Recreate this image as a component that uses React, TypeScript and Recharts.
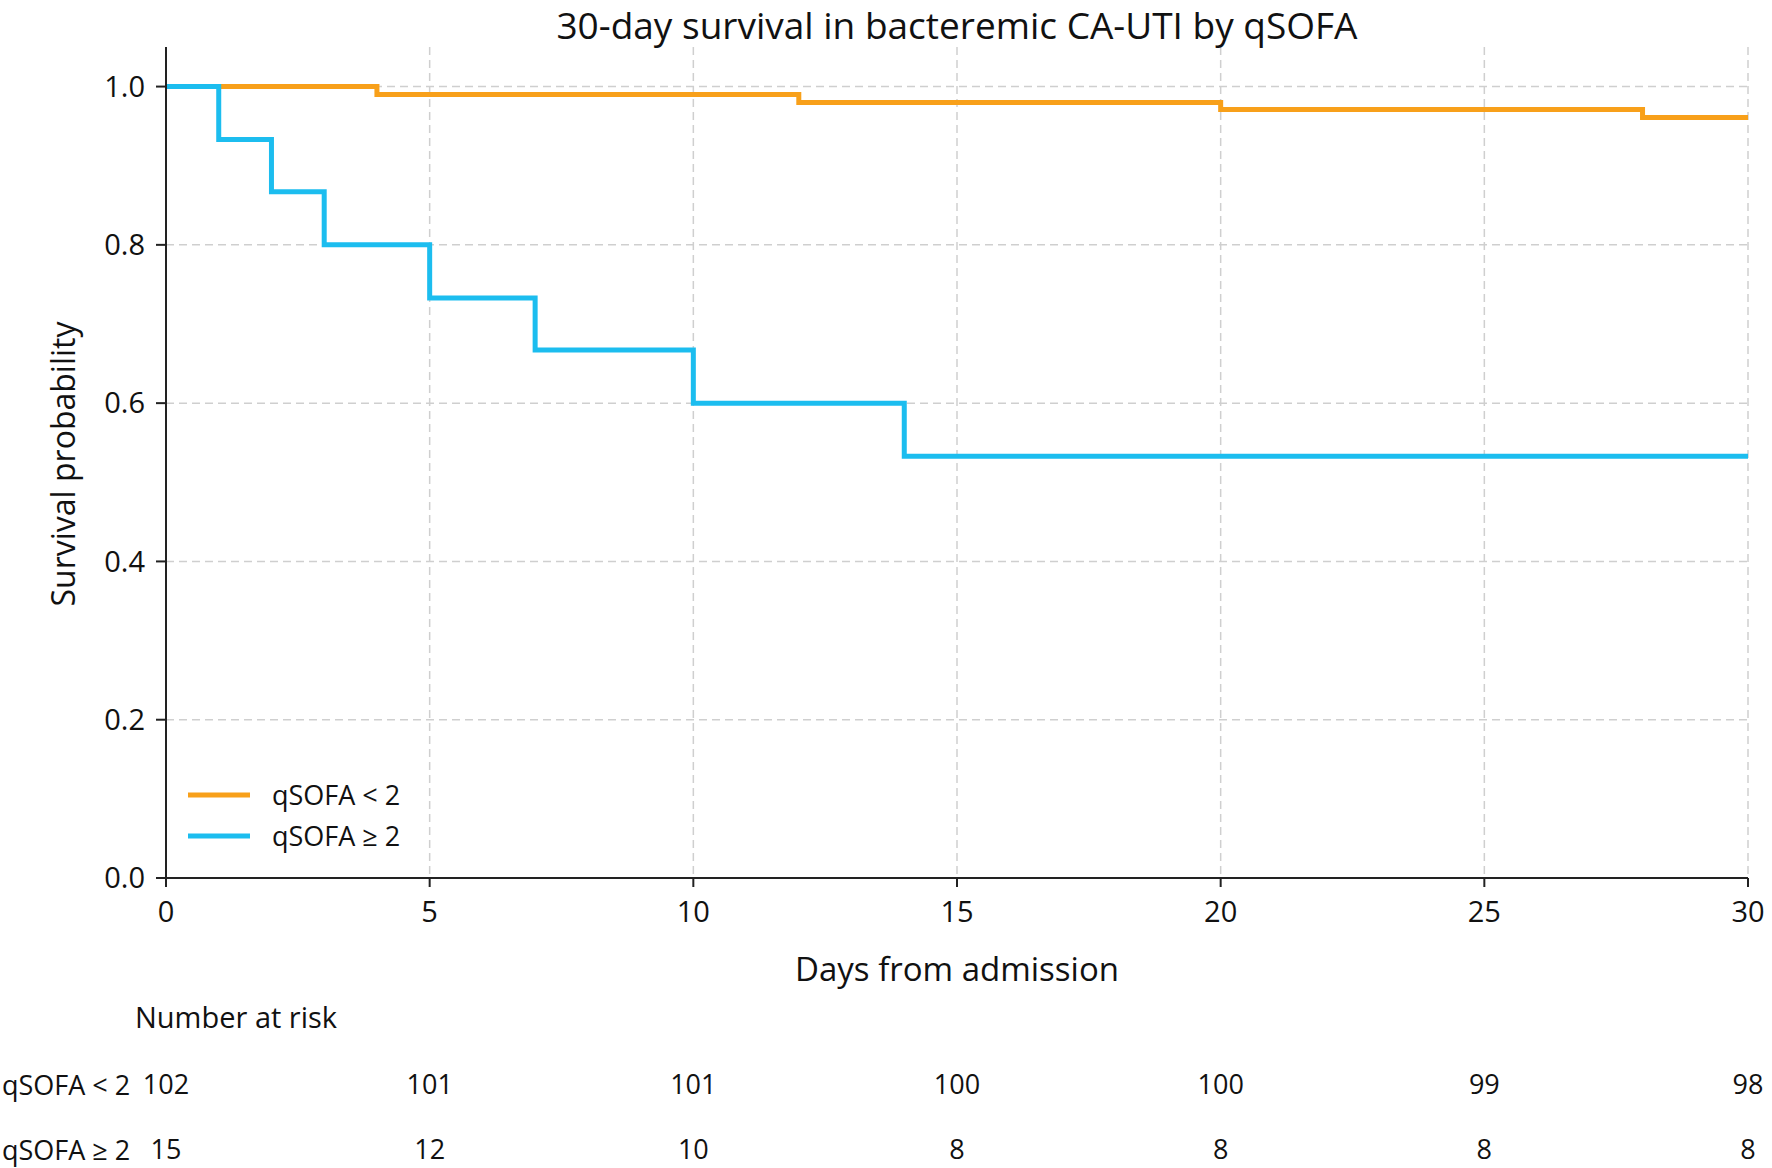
import React from 'react';
import { LineChart, Line, XAxis, YAxis, CartesianGrid, Legend } from 'recharts';

const COLORS = {
  low: '#F8A01A',
  high: '#1CBDEF',
  grid: '#CFCFCF',
  axis: '#222222',
  text: '#111111',
};

const FONT = '"Open Sans", "DejaVu Sans", sans-serif';

// Kaplan-Meier steps
const lowDays = [0, 4, 12, 20, 28, 30];
const lowSurv = [1.0, 0.99, 0.98, 0.971, 0.961, 0.961];
const highDays = [0, 1, 2, 3, 5, 7, 10, 14, 30];
const highSurv = [1.0, 0.933, 0.867, 0.8, 0.733, 0.667, 0.6, 0.533, 0.533];

const xTicks = [0, 5, 10, 15, 20, 25, 30];
const yTicks = [0, 0.2, 0.4, 0.6, 0.8, 1.0];

const groupLabels = ['qSOFA < 2', 'qSOFA ≥ 2'];
const atRiskLow = [102, 101, 101, 100, 100, 99, 98];
const atRiskHigh = [15, 12, 10, 8, 8, 8, 8];

const lowData = lowDays.map((t, i) => ({ t, s: lowSurv[i] }));
const highData = highDays.map((t, i) => ({ t, s: highSurv[i] }));

function AtRiskTick(props: any) {
  const { x, y, payload } = props;
  const i = xTicks.indexOf(payload.value);
  const common = { x, textAnchor: 'middle' as const, fill: COLORS.text, fontFamily: FONT };
  return (
    <g>
      <text {...common} fontSize={29} y={y + 35}>{payload.value}</text>
      <text {...common} fontSize={27} y={y + 207}>{atRiskLow[i]}</text>
      <text {...common} fontSize={27} y={y + 272}>{atRiskHigh[i]}</text>
    </g>
  );
}

function LegendBox() {
  const rows = [
    { label: groupLabels[0], color: COLORS.low },
    { label: groupLabels[1], color: COLORS.high },
  ];
  return (
    <div style={{ fontFamily: FONT, fontSize: 27, color: COLORS.text }}>
      {rows.map((r) => (
        <div key={r.label} style={{ display: 'flex', alignItems: 'center', height: 41 }}>
          <svg width={62} height={10} style={{ marginRight: 22 }}>
            <line x1={0} x2={62} y1={5} y2={5} stroke={r.color} strokeWidth={5} />
          </svg>
          <span>{r.label}</span>
        </div>
      ))}
    </div>
  );
}

const textStyle: React.CSSProperties = {
  position: 'absolute',
  fontFamily: FONT,
  color: COLORS.text,
  whiteSpace: 'nowrap',
  lineHeight: 1,
};

export default function App() {
  return (
    <div style={{ position: 'absolute', left: 0, top: 0, width: 1772, height: 1168, background: '#fff' }}>
      <LineChart width={1772} height={1168} margin={{ top: 47, right: 24, left: 0, bottom: 0 }}>
        <CartesianGrid
          stroke={COLORS.grid}
          strokeWidth={1.5}
          strokeDasharray="8 5"
          horizontalValues={yTicks}
          verticalValues={xTicks}
        />
        <XAxis
          dataKey="t"
          type="number"
          domain={[0, 30]}
          ticks={xTicks}
          height={290}
          axisLine={{ stroke: COLORS.axis, strokeWidth: 2 }}
          tickLine={{ stroke: COLORS.axis, strokeWidth: 2 }}
          tickSize={9}
          tickMargin={0}
          tick={(p: any) => <AtRiskTick {...p} />}
          interval={0}
        />
        <YAxis
          type="number"
          domain={[0, 1.05]}
          ticks={yTicks}
          width={166}
          allowDataOverflow
          axisLine={{ stroke: COLORS.axis, strokeWidth: 2 }}
          tickLine={{ stroke: COLORS.axis, strokeWidth: 2 }}
          tickSize={10}
          tickMargin={11}
          tickFormatter={(v: number) => v.toFixed(1)}
          tick={{ fontSize: 29, fill: COLORS.text, fontFamily: FONT }}
        />
        <Legend
          layout="vertical"
          align="center"
          verticalAlign="middle"
          wrapperStyle={{ left: 188, top: 774, width: 'auto' }}
          content={() => <LegendBox />}
        />
        <Line
          data={lowData}
          dataKey="s"
          name={groupLabels[0]}
          type="stepAfter"
          stroke={COLORS.low}
          strokeWidth={5}
          dot={false}
          activeDot={false}
          isAnimationActive={false}
        />
        <Line
          data={highData}
          dataKey="s"
          name={groupLabels[1]}
          type="stepAfter"
          stroke={COLORS.high}
          strokeWidth={5}
          dot={false}
          activeDot={false}
          isAnimationActive={false}
        />
      </LineChart>

      <div
        style={{
          ...textStyle,
          left: 166,
          width: 1582,
          top: 0,
          textAlign: 'center',
          fontSize: 37,
          lineHeight: 1.36,
        }}
      >
        30-day survival in bacteremic CA-UTI by qSOFA
      </div>
      <div
        style={{
          ...textStyle,
          left: 63,
          top: 464,
          fontSize: 32,
          transform: 'translate(-50%, -50%) rotate(-90deg)',
        }}
      >
        Survival probability
      </div>
      <div style={{ ...textStyle, left: 166, width: 1582, top: 952, textAlign: 'center', fontSize: 33 }}>
        Days from admission
      </div>
      <div style={{ ...textStyle, left: 135, top: 1002, fontSize: 29 }}>Number at risk</div>
      <div style={{ ...textStyle, left: 2, top: 1071, fontSize: 27 }}>{groupLabels[0]}</div>
      <div style={{ ...textStyle, left: 2, top: 1136, fontSize: 27 }}>{groupLabels[1]}</div>
    </div>
  );
}
